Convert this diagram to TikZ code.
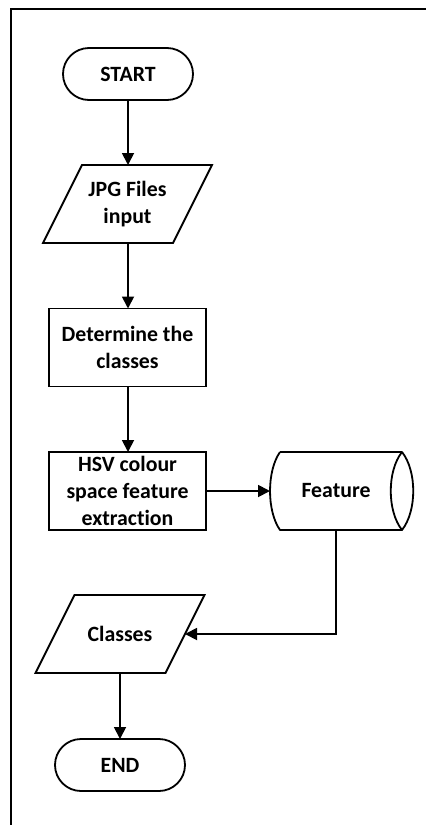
\documentclass[tikz,border=0pt]{standalone}
\usepackage{fontspec}
\setmainfont{Carlito}[Ligatures=NoCommon]
\usetikzlibrary{shapes.misc,arrows.meta}
\begin{document}
\begin{tikzpicture}[x=1pt,y=-1pt,
  every node/.style={inner sep=0pt,outer sep=0pt,align=center,
    font=\fontsize{21.8}{26.8}\selectfont\bfseries},
  shp/.style={draw=black,line width=1.8pt},
  term/.style={shp,rounded rectangle,minimum width=130pt,minimum height=52pt},
  io/.style={rectangle,minimum width=130pt,minimum height=78pt},
  proc/.style={shp,rectangle,minimum width=157pt,minimum height=78pt},
  conn/.style={line width=1.8pt,-{Triangle[length=12pt,width=12pt]}},
  plain/.style={line width=1.8pt}]
\useasboundingbox (0,0) rectangle (426,825);
\draw[line width=2.4pt] (11,825) -- (11,9) -- (426,9);

\node[term] (start) at (128,74) {START};
\node[io] (jpg) at (127.5,204) {JPG Files\\input};
\node[proc] (det) at (127.5,347.5) {Determine the\\classes};
\node[proc] (hsv) at (127.5,491) {HSV colour\\space feature\\extraction};
\node[minimum width=132pt,minimum height=78pt] (feat) at (336,491) {Feature};
\node[io] (cls) at (120,634) {Classes};
\node[term] (end) at (120,765) {END};

% parallelograms
\foreach \n in {jpg,cls}{
  \draw[shp,line join=miter] ([xshift=19.5pt]\n.north west) -- ([xshift=19.5pt]\n.north east)
    -- ([xshift=-19.5pt]\n.south east) -- ([xshift=-19.5pt]\n.south west) -- cycle;
}
% feature store shape
\draw[shp,line join=round] (280,452) -- (402,452)
  .. controls (387,471) and (387,511) .. (402,530)
  .. controls (417,511) and (417,471) .. (402,452);
\draw[shp,line join=round] (402,530) -- (280,530)
  .. controls (266.7,511) and (266.7,471) .. (280,452);

\draw[conn] (start.south) -- (start.south |- jpg.north);
\draw[conn] (jpg.south -| start.south) -- (det.north -| start.south);
\draw[conn] (det.south -| start.south) -- (hsv.north -| start.south);
\draw[conn] (hsv.east) -- (feat.west);
\draw[conn] (feat.south) |- (cls.east);
\draw[conn] (cls.south) -- (end.north);
\end{tikzpicture}
\end{document}
